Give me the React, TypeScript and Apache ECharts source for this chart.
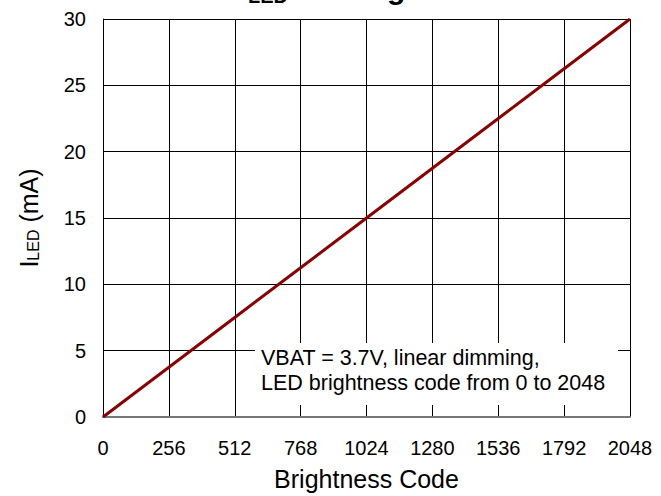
import React, { useEffect, useRef } from "react";
import * as echarts from "echarts";

const codes = [0, 256, 512, 768, 1024, 1280, 1536, 1792, 2048];
const currents = [0, 3.75, 7.5, 11.25, 15, 18.75, 22.5, 26.25, 30];
const xTicks = [0, 256, 512, 768, 1024, 1280, 1536, 1792, 2048];
const yTicks = [0, 5, 10, 15, 20, 25, 30];
const noteLines = ["VBAT = 3.7V, linear dimming,", "LED brightness code from 0 to 2048"];

const FONT = "'Liberation Sans', Arial, sans-serif";

export default function App() {
  const ref = useRef<HTMLDivElement>(null);
  useEffect(() => {
    document.body.style.margin = "0";
    if (!ref.current) return;
    const chart = echarts.init(ref.current, null, { renderer: "svg" });
    const data = codes.map((c, i) => [c, currents[i]]);
    chart.setOption({
      animation: false,
      backgroundColor: "#fff",
      textStyle: { fontFamily: FONT },
      grid: { left: 103, right: 31, top: 19, bottom: 77, containLabel: false },
      xAxis: {
        type: "value",
        min: xTicks[0],
        max: xTicks[xTicks.length - 1],
        interval: 256,
        name: "Brightness Code",
        nameLocation: "middle",
        nameGap: 49,
        nameTextStyle: { fontSize: 25, color: "#000", fontFamily: FONT },
        axisLine: { show: true, lineStyle: { color: "#777", width: 2 } },
        axisTick: { show: false },
        axisLabel: {
          fontSize: 20,
          color: "#000",
          margin: 21,
          fontFamily: FONT,
          formatter: (v: number) => String(v),
        },
        splitLine: { show: true, lineStyle: { color: "#000", width: 1 } },
      },
      yAxis: {
        type: "value",
        min: yTicks[0],
        max: yTicks[yTicks.length - 1],
        interval: 5,
        name: "{a|I}{b|LED}{a| (mA)}",
        nameLocation: "middle",
        nameGap: 62,
        nameTextStyle: {
          fontSize: 25,
          color: "#000",
          fontFamily: FONT,
          rich: {
            a: { fontSize: 25, fontFamily: FONT, color: "#000", verticalAlign: "bottom", lineHeight: 29 },
            b: { fontSize: 16, fontFamily: FONT, color: "#000", verticalAlign: "bottom", lineHeight: 29 },
          },
        },
        axisLine: { show: true, lineStyle: { color: "#000", width: 1 } },
        axisTick: { show: false },
        axisLabel: {
          fontSize: 20,
          color: "#000",
          margin: 17,
          fontFamily: FONT,
          formatter: (v: number) => String(v),
        },
        splitLine: { show: true, lineStyle: { color: "#000", width: 1 } },
      },
      graphic: [
        {
          type: "rect",
          z: 10,
          shape: { x: 255, y: 343, width: 363, height: 62 },
          style: { fill: "#fff" },
        },
        {
          type: "text",
          z: 11,
          x: 261,
          y: 358,
          style: { text: noteLines[0], font: `21.5px ${FONT}`, fill: "#000", verticalAlign: "middle" },
        },
        {
          type: "text",
          z: 11,
          x: 261,
          y: 383,
          style: { text: noteLines[1], font: `21.5px ${FONT}`, fill: "#000", verticalAlign: "middle" },
        },
        {
          type: "text",
          z: 11,
          x: 239,
          y: -12,
          style: { text: "I", font: `bold 30px ${FONT}`, fill: "#000", verticalAlign: "middle" },
        },
        {
          type: "text",
          z: 11,
          x: 248,
          y: -4,
          style: { text: "LED", font: `bold 20px ${FONT}`, fill: "#000", verticalAlign: "middle" },
        },
        {
          type: "text",
          z: 11,
          x: 287,
          y: -12,
          style: { text: " vs. Brightness Code", font: `bold 30px ${FONT}`, fill: "#000", verticalAlign: "middle" },
        },
      ],
      series: [
        {
          type: "line",
          data,
          showSymbol: false,
          lineStyle: { color: "#8B0000", width: 3 },
          itemStyle: { color: "#8B0000" },
          z: 5,
        },
      ],
    });
    return () => chart.dispose();
  }, []);
  return <div ref={ref} style={{ width: 661, height: 496 }} />;
}
